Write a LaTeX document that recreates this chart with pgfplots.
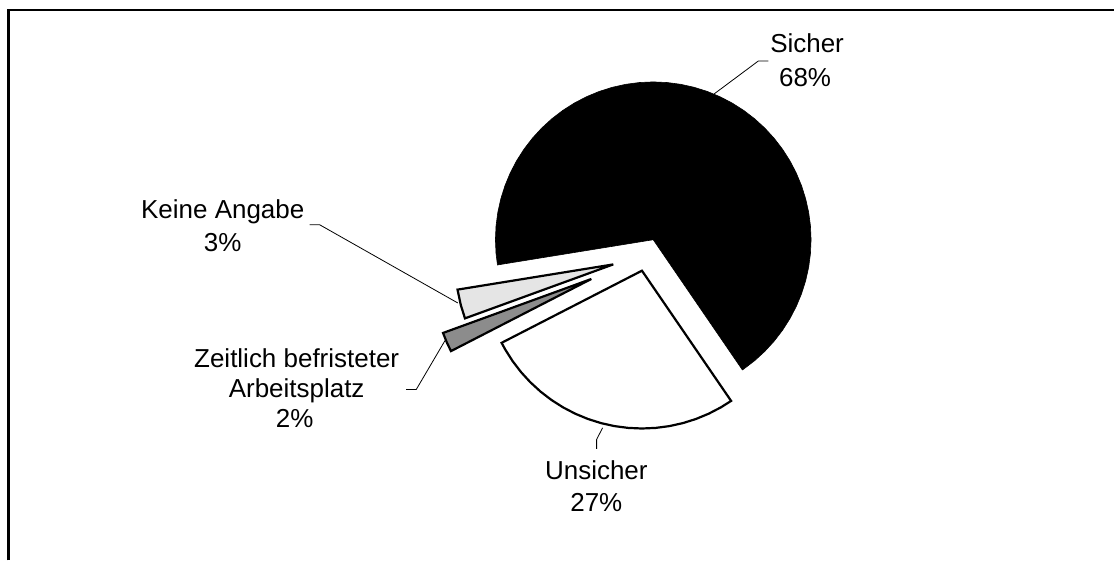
\documentclass[border=0pt]{standalone}
\usepackage{fontspec}
\setmainfont{Liberation Sans}
\usepackage{pgfplots}
\pgfplotsset{compat=1.18}
\usepgfplotslibrary{polar}
\begin{document}
\begin{tikzpicture}[font=\fontsize{26}{31}\selectfont]
\begin{axis}[width=1115pt,height=561pt,scale only axis,
  xmin=0,xmax=1115,ymin=0,ymax=561,y dir=reverse,hide axis,clip=false]
\addplot[draw=none] coordinates {(0,0) (1115,561)};
% frame
\addplot[line width=2.6pt, line join=miter] coordinates {(8.3,561) (8.3,10) (1115,10)};
% Sicher 68%
\addplot[data cs=polar, fill=black, draw=black, line width=0.6pt, xshift=654pt, yshift=-240pt] coordinates {
(0,0) (170.8,158) (175,158) (180,158) (185,158) (190,158) (195,158) (200,158) (205,158) (210,158)
(215,158) (220,158) (225,158) (230,158) (235,158) (240,158) (245,158) (250,158) (255,158) (260,158)
(265,158) (270,158) (275,158) (280,158) (285,158) (290,158) (295,158) (300,158) (305,158) (310,158)
(315,158) (320,158) (325,158) (330,158) (335,158) (340,158) (345,158) (350,158) (355,158) (360,158)
(365,158) (370,158) (375,158) (380,158) (385,158) (390,158) (395,158) (400,158) (405,158) (410,158)
(415,158) (415.6,158)} -- cycle;
% Unsicher 27%
\addplot[data cs=polar, fill=white, draw=black, line width=2.2pt, xshift=642.7pt, yshift=-271pt] coordinates {
(0,0) (55.6,158) (60,158) (65,158) (70,158) (75,158) (80,158) (85,158) (90,158) (95,158) (100,158)
(105,158) (110,158) (115,158) (120,158) (125,158) (130,158) (135,158) (140,158) (145,158) (150,158)
(152.8,158)} -- cycle;
% Zeitlich befristeter Arbeitsplatz 2%
\addplot[data cs=polar, fill=black!45, draw=black, line width=2.2pt, xshift=592pt, yshift=-279.3pt] coordinates {
(0,0) (152.8,158) (156.4,158) (160,158)} -- cycle;
% Keine Angabe 3%
\addplot[data cs=polar, fill=black!10, draw=black, line width=2.2pt, xshift=614pt, yshift=-264.7pt] coordinates {
(0,0) (160,158) (165,158) (170.8,158)} -- cycle;
% leader lines
\addplot[black, line width=0.8pt] coordinates {(715,94) (759.3,61) (769.3,61)};
\addplot[black, line width=0.8pt] coordinates {(310,225) (320,225) (458.3,303.3)};
\addplot[black, line width=0.8pt] coordinates {(406.7,390) (416.7,390) (445.5,341)};
\addplot[black, line width=0.8pt] coordinates {(597.3,449.3) (597.3,440) (603.3,428.3)};
% labels
\node[anchor=base] at (axis cs:808,53) {Sicher};
\node[anchor=base] at (axis cs:806,87) {68\%};
\node[anchor=base] at (axis cs:223,218.3) {Keine Angabe};
\node[anchor=base] at (axis cs:223,251.7) {3\%};
\node[anchor=base] at (axis cs:297,368.3) {Zeitlich befristeter};
\node[anchor=base] at (axis cs:297,398.3) {Arbeitsplatz};
\node[anchor=base] at (axis cs:295,428.3) {2\%};
\node[anchor=base] at (axis cs:597,480) {Unsicher};
\node[anchor=base] at (axis cs:597,511.7) {27\%};
\end{axis}
\end{tikzpicture}
\end{document}
